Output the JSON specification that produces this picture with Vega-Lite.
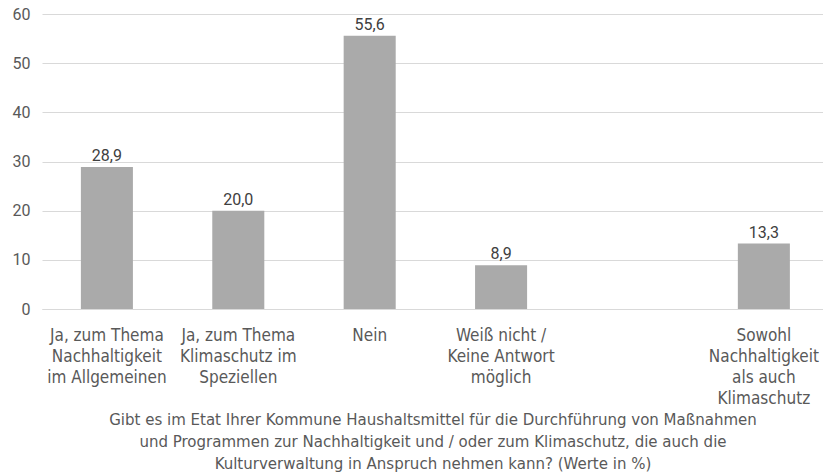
{
  "$schema": "https://vega.github.io/schema/vega-lite/v6.json",
  "autosize": {"type": "none"},
  "padding": {"left": 42, "top": 14, "right": 0, "bottom": 163},
  "width": 781,
  "height": 295,
  "background": "white",
  "config": {
    "locale": {"number": {"decimal": ",", "thousands": ".", "grouping": [3], "currency": ["", " €"]}},
    "view": {"stroke": null},
    "font": "Roboto"
  },
  "data": {
    "values": [
      {"kategorie": "Ja, zum Thema|Nachhaltigkeit|im Allgemeinen", "wert": 28.9},
      {"kategorie": "Ja, zum Thema|Klimaschutz im|Speziellen", "wert": 20.0},
      {"kategorie": "Nein", "wert": 55.6},
      {"kategorie": "Weiß nicht /|Keine Antwort|möglich", "wert": 8.9},
      {"kategorie": "Sowohl|Nachhaltigkeit|als auch|Klimaschutz", "wert": 13.3}
    ]
  },
  "encoding": {
    "x": {
      "field": "kategorie",
      "type": "nominal",
      "sort": null,
      "scale": {
        "domain": [
          "Ja, zum Thema|Nachhaltigkeit|im Allgemeinen",
          "Ja, zum Thema|Klimaschutz im|Speziellen",
          "Nein",
          "Weiß nicht /|Keine Antwort|möglich",
          " ",
          "Sowohl|Nachhaltigkeit|als auch|Klimaschutz"
        ],
        "paddingInner": 0.604,
        "paddingOuter": 0.274,
        "align": 0.54
      },
      "axis": {
        "title": [
          "Gibt es im Etat Ihrer Kommune Haushaltsmittel für die Durchführung von Maßnahmen",
          "und Programmen zur Nachhaltigkeit und / oder zum Klimaschutz, die auch die",
          "Kulturverwaltung in Anspruch nehmen kann? (Werte in %)"
        ],
        "titleFont": "DejaVu Sans Condensed, Liberation Sans Narrow, Roboto Condensed, Roboto",
        "titleFontSize": 16.7,
        "titleFontWeight": "normal",
        "titleColor": "#595959",
        "titleLineHeight": 22,
        "titlePadding": 5,
        "labelExpr": "split(datum.label, '|')",
        "labelAngle": 0,
        "labelFont": "DejaVu Sans Condensed, Liberation Sans Narrow, Roboto Condensed, Roboto",
        "labelFontSize": 17,
        "labelColor": "#595959",
        "labelLineHeight": 21,
        "labelPadding": 18,
        "labelLimit": 0,
        "ticks": false,
        "domainColor": "#d9d9d9",
        "domainWidth": 1
      }
    }
  },
  "layer": [
    {
      "mark": {"type": "bar", "color": "#aaaaaa"},
      "encoding": {
        "y": {
          "field": "wert",
          "type": "quantitative",
          "scale": {"domain": [0, 60]},
          "axis": {
            "title": null,
            "values": [0, 10, 20, 30, 40, 50, 60],
            "domain": false,
            "ticks": false,
            "labelFont": "Roboto",
            "labelFontSize": 16,
            "labelColor": "#595959",
            "labelPadding": 12,
            "gridColor": "#d9d9d9",
            "gridWidth": 1
          }
        }
      }
    },
    {
      "mark": {"type": "text", "baseline": "alphabetic", "dy": -6, "font": "Roboto", "fontSize": 16, "color": "#404040"},
      "encoding": {
        "y": {"field": "wert", "type": "quantitative"},
        "text": {"field": "wert", "type": "quantitative", "format": ".1f"}
      }
    }
  ]
}
